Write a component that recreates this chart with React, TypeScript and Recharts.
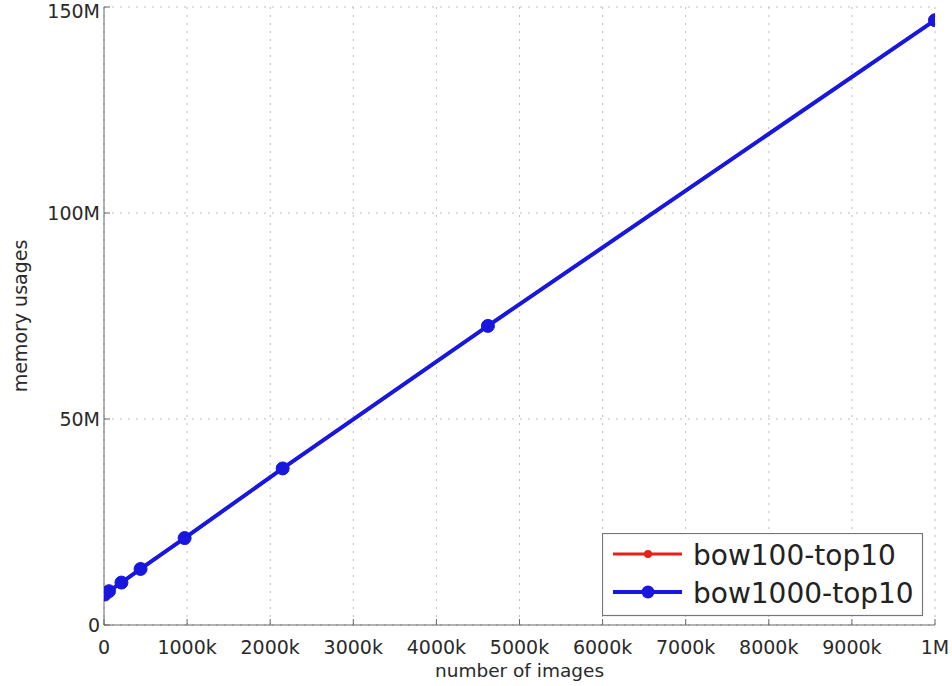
import React from 'react';
import { LineChart, Line, XAxis, YAxis, CartesianGrid, Legend } from 'recharts';

// number of images (in thousands)
const imageCounts = [10, 60, 210, 440, 970, 2150, 4620, 10000];
// memory usage (in millions)
const bow100Top10 = [7.4, 8.2, 10.3, 13.6, 21.1, 38.0, 72.6, 146.8];
const bow1000Top10 = [7.4, 8.2, 10.3, 13.6, 21.1, 38.0, 72.6, 146.8];

const xTicks = [0, 1000, 2000, 3000, 4000, 5000, 6000, 7000, 8000, 9000, 10000];
const yTicks = [0, 50, 100, 150];

const seriesNames = ['bow100-top10', 'bow1000-top10'];
const seriesColors = ['#e8201a', '#1717e0'];

const data = imageCounts.map((x, i) => ({
  x,
  a: bow100Top10[i],
  b: bow1000Top10[i],
}));

const xFmt = (v: number) => (v === 0 ? '0' : v === 10000 ? '1M' : `${v}k`);
const yFmt = (v: number) => (v === 0 ? '0' : `${v}M`);

const FONT = '"DejaVu Sans", sans-serif';
const tickStyle = { fontSize: 19, fill: '#2a2a2a', fontFamily: FONT };

const YTick = (props: any) => {
  const { x, y, payload } = props;
  return (
    <text x={x} y={Math.max(y, 11.5)} dy="0.36em" textAnchor="end" fontSize={19} fill="#2a2a2a" fontFamily={FONT}>
      {yFmt(payload.value)}
    </text>
  );
};

const LegendBox = () => (
  <svg width={322} height={84} style={{ display: 'block' }}>
    <rect x={0.5} y={0.5} width={320} height={82} fill="#fff" stroke="#777" strokeWidth={1.2} />
    {seriesNames.map((name, i) => {
      const cy = 21 + i * 38;
      return (
        <g key={name}>
          <line x1={11} x2={80} y1={cy} y2={cy} stroke={seriesColors[i]} strokeWidth={i === 0 ? 3 : 4} />
          <circle cx={46} cy={cy} r={i === 0 ? 4 : 6.5} fill={seriesColors[i]} />
          <text x={91} y={cy + 11} fontSize={28} fontFamily={FONT} fill="#222">
            {name}
          </text>
        </g>
      );
    })}
  </svg>
);

export default function App() {
  return (
    <div style={{ position: 'absolute', left: 0, top: 0, background: '#fff' }}>
      <LineChart width={952} height={686} data={data} margin={{ top: 7, right: 17, left: 0, bottom: 0 }}>
        <CartesianGrid stroke="#bdbdbd" strokeDasharray="2 6" strokeWidth={1} />
        <XAxis
          dataKey="x"
          type="number"
          domain={[0, 10000]}
          ticks={xTicks}
          tickFormatter={xFmt}
          height={61}
          interval={0}
          tickSize={-6}
          tickMargin={22}
          tick={tickStyle}
          stroke="#666"
          allowDataOverflow
          label={{ value: 'number of images', position: 'insideBottom', offset: 9, fontSize: 18.5, fill: '#2a2a2a', fontFamily: FONT }}
        />
        <XAxis
          xAxisId="top"
          orientation="top"
          type="number"
          domain={[0, 10000]}
          ticks={xTicks}
          height={0}
          interval={0}
          tickSize={-6}
          tick={false}
          stroke="#666"
          allowDataOverflow
        />
        <YAxis
          type="number"
          domain={[0, 150]}
          ticks={yTicks}
          tickFormatter={yFmt}
          width={104}
          interval={0}
          tickSize={-6}
          tickMargin={10}
          tick={<YTick />}
          stroke="#666"
          allowDataOverflow
          label={{ value: 'memory usages', angle: -90, position: 'insideLeft', offset: 20, fontSize: 19, fill: '#2a2a2a', fontFamily: FONT, style: { textAnchor: 'middle' } }}
        />
        <YAxis
          yAxisId="right"
          orientation="right"
          type="number"
          domain={[0, 150]}
          ticks={yTicks}
          width={0}
          interval={0}
          tickSize={-6}
          tick={false}
          stroke="#666"
          allowDataOverflow
        />
        <Line
          dataKey="a"
          name={seriesNames[0]}
          stroke={seriesColors[0]}
          strokeWidth={3}
          dot={{ r: 4, fill: seriesColors[0], stroke: seriesColors[0] }}
          isAnimationActive={false}
        />
        <Line
          dataKey="b"
          name={seriesNames[1]}
          stroke={seriesColors[1]}
          strokeWidth={4}
          dot={{ r: 6.5, fill: seriesColors[1], stroke: seriesColors[1], strokeWidth: 1 }}
          isAnimationActive={false}
        />
        <Legend
          layout="vertical"
          align="center"
          verticalAlign="middle"
          content={() => <LegendBox />}
          wrapperStyle={{ position: 'absolute', left: 602, top: 533, width: 322, height: 84, bottom: 'auto', right: 'auto', margin: 0 }}
        />
      </LineChart>
    </div>
  );
}
